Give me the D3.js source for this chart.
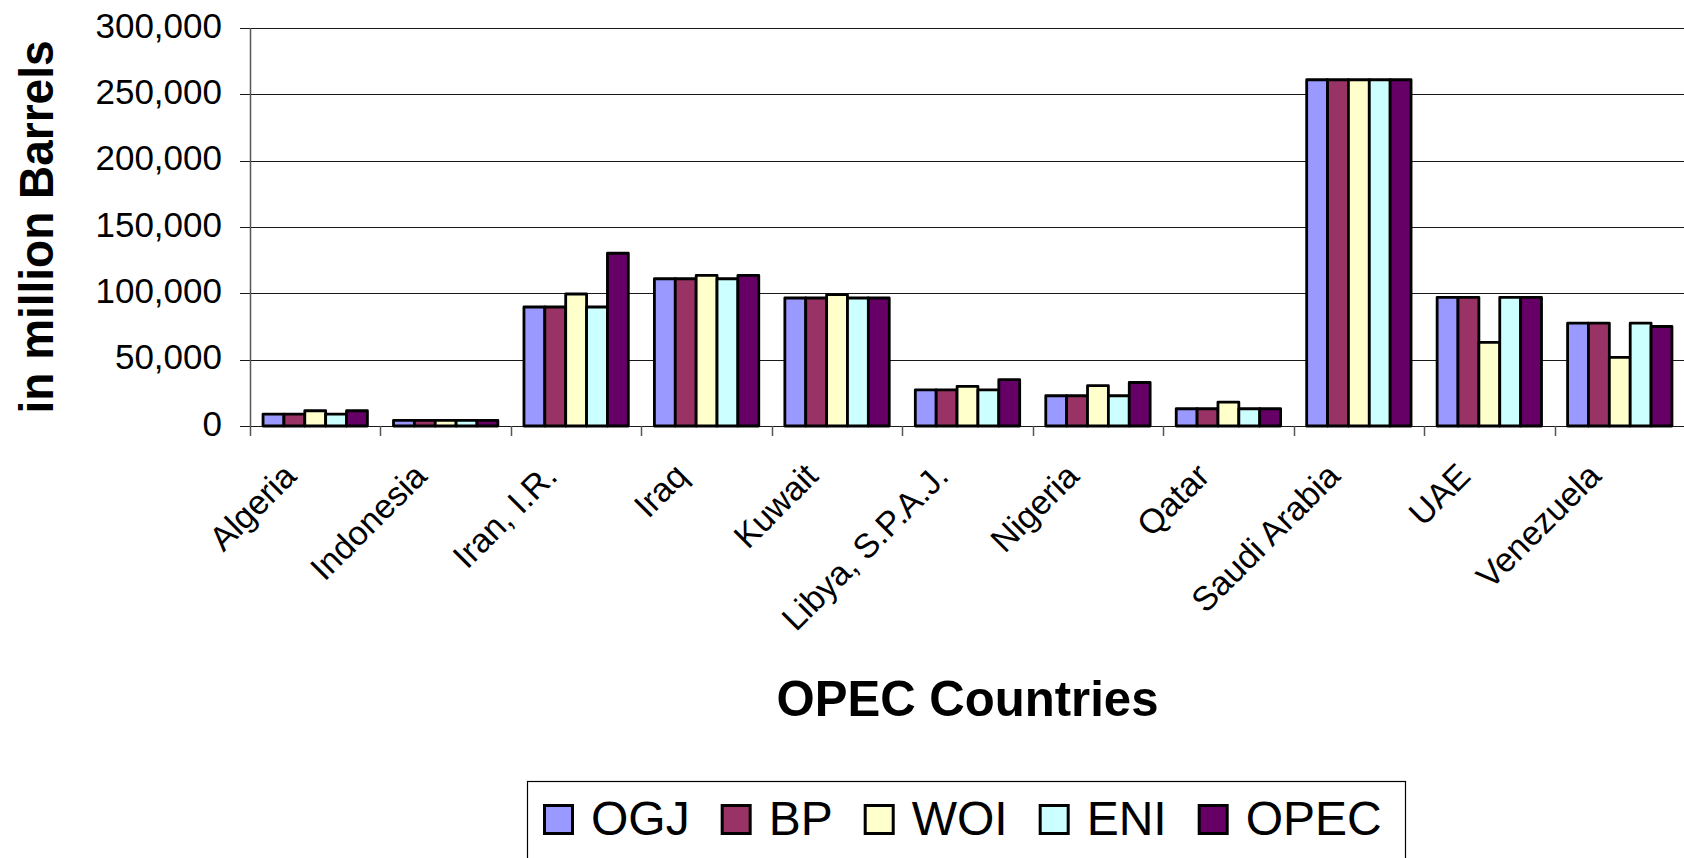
<!DOCTYPE html>
<html>
<head>
<meta charset="utf-8">
<script src="https://cdn.jsdelivr.net/npm/d3@7"></script>
<style>
  html, body { margin: 0; padding: 0; background: #fff; }
  svg { display: block; font-family: "Liberation Sans", Arial, sans-serif; }
</style>
</head>
<body>
<div id="chart"></div>
<script>
// Données (millions de barils)
const countries = ["Algeria", "Indonesia", "Iran, I.R.", "Iraq", "Kuwait", "Libya, S.P.A.J.",
                   "Nigeria", "Qatar", "Saudi Arabia", "UAE", "Venezuela"];
const series = ["OGJ", "BP", "WOI", "ENI", "OPEC"];
const colors = ["#9999FF", "#993366", "#FFFFCC", "#CCFFFF", "#660066"];

const ogj  = [9000, 4300, 89700, 111000, 96500, 27300, 22800, 13000, 261000, 97000, 77500];
const bp   = [9000, 4300, 89700, 111000, 96500, 27300, 22800, 13000, 261000, 97000, 77500];
const woi  = [11500, 4300, 99500, 113500, 99000, 29800, 30400, 18000, 261000, 63000, 51700];
const eni  = [9000, 4300, 89700, 111000, 96500, 27300, 22800, 13000, 261000, 97000, 77500];
const opec = [11500, 4300, 130200, 113500, 96500, 34900, 32800, 13000, 261000, 97000, 75000];

const yTicks = [0, 50000, 100000, 150000, 200000, 250000, 300000];

const values = { OGJ: ogj, BP: bp, WOI: woi, ENI: eni, OPEC: opec };

const CONFIG = { width: 1684, height: 858 };
const margin = { left: 250, right: -1, top: 28 };

const svg = d3.select("#chart").append("svg")
    .attr("width", CONFIG.width)
    .attr("height", CONFIG.height);

// Echelles
const x0 = d3.scaleBand()
    .domain(countries)
    .range([margin.left, CONFIG.width - margin.right])
    .padding(0);

const x1 = d3.scaleBand()
    .domain(series)
    .range([x0.bandwidth() * 0.1, x0.bandwidth() * 0.9])
    .padding(0);

const y = d3.scaleLinear()
    .domain([0, 300000])
    .range([426, margin.top]);

// Grille horizontale
svg.append("g")
    .selectAll("line")
    .data(yTicks)
    .join("line")
    .attr("x1", margin.left - 10)
    .attr("x2", CONFIG.width)
    .attr("y1", d => Math.round(y(d)) + 0.5)
    .attr("y2", d => Math.round(y(d)) + 0.5)
    .attr("stroke", "#1a1a1a")
    .attr("stroke-width", 1.2);

// Axe vertical
svg.append("line")
    .attr("x1", margin.left + 0.5).attr("x2", margin.left + 0.5)
    .attr("y1", y(300000)).attr("y2", y(0) + 10)
    .attr("stroke", "#555")
    .attr("stroke-width", 1.5);

// Graduations des catégories
const fmt = d3.format(",");
svg.append("g")
    .selectAll("line")
    .data(countries)
    .join("line")
    .attr("x1", d => Math.round(x0(d) + x0.bandwidth()) + 0.5)
    .attr("x2", d => Math.round(x0(d) + x0.bandwidth()) + 0.5)
    .attr("y1", y(0))
    .attr("y2", y(0) + 10)
    .attr("stroke", "#555")
    .attr("stroke-width", 1.5);

// Libellés axe Y
svg.append("g")
    .selectAll("text")
    .data(yTicks)
    .join("text")
    .attr("x", 222)
    .attr("y", d => y(d) + 9.5)
    .attr("text-anchor", "end")
    .attr("font-size", 35)
    .attr("fill", "#000")
    .text(d => fmt(d));

// Barres
const groups = svg.append("g")
    .selectAll("g")
    .data(countries)
    .join("g")
    .attr("transform", d => `translate(${x0(d)},0)`);

groups.selectAll("rect")
    .data((c, ci) => series.map((s, si) => ({ s, si, v: values[s][ci] })))
    .join("rect")
    .attr("x", d => x1(d.s))
    .attr("y", d => y(d.v))
    .attr("width", x1.bandwidth())
    .attr("height", d => y(0) - y(d.v))
    .attr("fill", d => colors[d.si])
    .attr("stroke", "#000")
    .attr("stroke-width", 2.8)
    .attr("stroke-linejoin", "round");

// Libellés des pays (inclinés)
svg.append("g")
    .selectAll("text")
    .data(countries)
    .join("text")
    .attr("transform", d => `translate(${x0(d) + x0.bandwidth() / 2 - 17},478) rotate(-45)`)
    .attr("text-anchor", "end")
    .attr("font-size", 34)
    .attr("fill", "#000")
    .text(d => d);

// Titres des axes
svg.append("text")
    .attr("transform", "translate(53,227) rotate(-90)")
    .attr("text-anchor", "middle")
    .attr("font-size", 49)
    .attr("font-weight", "bold")
    .attr("textLength", 373)
    .attr("lengthAdjust", "spacingAndGlyphs")
    .text("in million Barrels");

svg.append("text")
    .attr("x", (x0.range()[0] + x0.range()[1]) / 2)
    .attr("y", 716)
    .attr("text-anchor", "middle")
    .attr("font-size", 50)
    .attr("font-weight", "bold")
    .attr("textLength", 382)
    .attr("lengthAdjust", "spacingAndGlyphs")
    .text("OPEC Countries");

// Légende
const legend = svg.append("g");
legend.append("rect")
    .attr("x", 527.5).attr("y", 781.5)
    .attr("width", 878).attr("height", 120)
    .attr("fill", "#fff")
    .attr("stroke", "#000")
    .attr("stroke-width", 1.2);

let lx = 543;
series.forEach((s, i) => {
    legend.append("rect")
        .attr("x", lx + 1.5).attr("y", 805.5)
        .attr("width", 28).attr("height", 28)
        .attr("fill", colors[i])
        .attr("stroke", "#000")
        .attr("stroke-width", 3);
    const t = legend.append("text")
        .attr("x", lx + 48)
        .attr("y", 835)
        .attr("font-size", 48)
        .attr("fill", "#000")
        .text(s);
    lx = lx + 48 + t.node().getComputedTextLength() + 31;
});
</script>
</body>
</html>
